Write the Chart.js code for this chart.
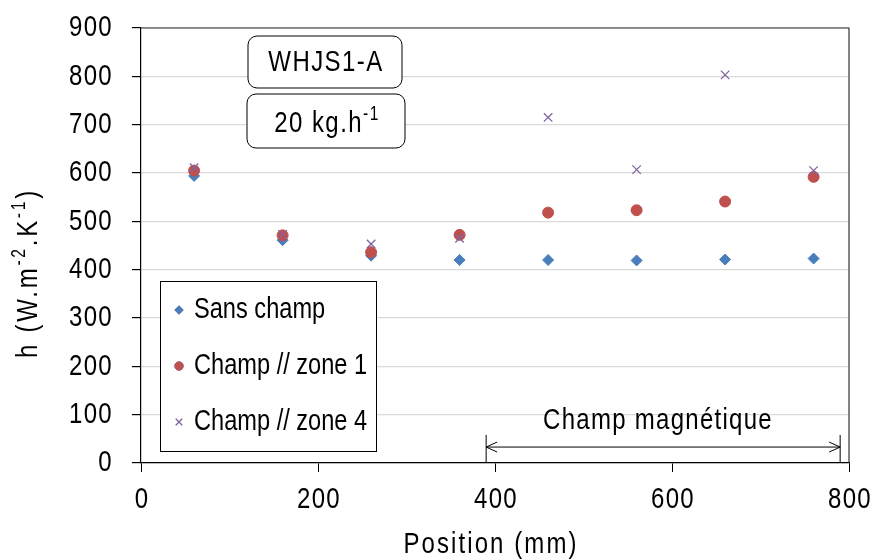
<!DOCTYPE html>
<html>
<head>
<meta charset="utf-8">
<script src="https://cdn.jsdelivr.net/npm/chart.js@4/dist/chart.umd.min.js"></script>
<style>
  html, body { margin: 0; padding: 0; background: #fff; }
  #wrap { width: 873px; height: 559px; }
</style>
</head>
<body>
<div id="wrap"><canvas id="hChart" width="873" height="559"></canvas></div>
<script>
/* ======================
   DATA
====================== */
const positions = [60, 160, 260, 360, 460, 560, 660, 760];
const sansChamp = [594, 461, 429, 420, 420, 419, 421, 423];
const champZone1 = [605, 471, 436, 472, 518, 523, 541, 592];
const champZone4 = [611, 473, 453, 465, 715, 607, 803, 605];
const seriesNames = ["Sans champ", "Champ // zone 1", "Champ // zone 4"];
const xTicks = [0, 200, 400, 600, 800];
const yTicks = [0, 100, 200, 300, 400, 500, 600, 700, 800, 900];
const fieldZone = [390, 790]; // champ magnétique, mm

// narrow look: Liberation Sans squeezed horizontally
const FONT = "'Liberation Sans', Arial, sans-serif";
const SIZE = 30;
const SX = 0.8;

function toPoints(values) {
    return positions.map((x, i) => ({ x: x, y: values[i] }));
}

/* ======================
   HELPERS
====================== */
function roundBox(ctx, x, y, w, h, r) {
    ctx.beginPath();
    ctx.moveTo(x + r, y);
    ctx.lineTo(x + w - r, y);
    ctx.arcTo(x + w, y, x + w, y + r, r);
    ctx.lineTo(x + w, y + h - r);
    ctx.arcTo(x + w, y + h, x + w - r, y + h, r);
    ctx.lineTo(x + r, y + h);
    ctx.arcTo(x, y + h, x, y + h - r, r);
    ctx.lineTo(x, y + r);
    ctx.arcTo(x, y, x + r, y, r);
    ctx.closePath();
    ctx.fillStyle = "#fff";
    ctx.fill();
    ctx.strokeStyle = "#000";
    ctx.lineWidth = 1;
    ctx.stroke();
}

// parts: [string, isSuperscript]; opts: size, spacing, align
function drawText(ctx, parts, x, y, opts) {
    const size = opts.size || SIZE;
    const sup = size * 0.65;
    ctx.save();
    ctx.letterSpacing = (opts.spacing || 0) + "px";
    let w = 0;
    parts.forEach(p => {
        ctx.font = (p[1] ? sup : size) + "px " + FONT;
        w += ctx.measureText(p[0]).width;
    });
    ctx.translate(x, y);
    ctx.scale(SX, 1);
    let cx = opts.align === "left" ? 0 : opts.align === "right" ? -w : -w / 2;
    ctx.textAlign = "left";
    ctx.textBaseline = "middle";
    ctx.fillStyle = "#000";
    parts.forEach(p => {
        ctx.font = (p[1] ? sup : size) + "px " + FONT;
        ctx.fillText(p[0], cx, p[1] ? -size * 0.3 : 0);
        cx += ctx.measureText(p[0]).width;
    });
    ctx.restore();
}

/* ======================
   EXTRAS PLUGIN
====================== */
const extras = {
    id: "extras",
    beforeDraw(chart) {
        const ctx = chart.ctx;
        ctx.save();
        ctx.fillStyle = "#fff";
        ctx.fillRect(0, 0, chart.width, chart.height);
        ctx.restore();
    },
    afterDatasetsDraw(chart) {
        const ctx = chart.ctx;
        const a = chart.chartArea;
        const xs = chart.scales.x, ys = chart.scales.y;
        ctx.save();

        // frame top + right
        ctx.strokeStyle = "#333";
        ctx.lineWidth = 1.2;
        ctx.beginPath();
        ctx.moveTo(a.left, a.top);
        ctx.lineTo(a.right, a.top);
        ctx.lineTo(a.right, a.bottom);
        ctx.stroke();

        // tick labels
        yTicks.forEach(v => {
            drawText(ctx, [[String(v), false]], 113, ys.getPixelForValue(v), { spacing: 1.6, align: "right" });
        });
        xTicks.forEach(v => {
            drawText(ctx, [[String(v), false]], xs.getPixelForValue(v) + 1, 500, { spacing: 1.6 });
        });

        // label boxes
        roundBox(ctx, 248, 36, 154, 52, 9);
        drawText(ctx, [["WHJS1-A", false]], 326, 63, { spacing: 1.8 });
        roundBox(ctx, 247, 94, 158, 54, 9);
        drawText(ctx, [["20 kg.h", false], ["-1", true]], 327, 124, { spacing: 1.8 });

        // legend
        ctx.fillStyle = "#fff";
        ctx.fillRect(160.5, 281.5, 216, 170);
        ctx.strokeStyle = "#000";
        ctx.lineWidth = 1;
        ctx.strokeRect(160.5, 281.5, 216, 170);
        const rowY = [310, 366, 422];
        chart.data.datasets.forEach((ds, i) => {
            Chart.helpers.drawPoint(ctx, {
                pointStyle: ds.pointStyle,
                radius: ds.pointRadius * 0.75,
                rotation: 0,
                borderWidth: ds.borderWidth
            }, 179, rowY[i]);
            ctx.fillStyle = ds.backgroundColor;
            ctx.strokeStyle = ds.borderColor;
            ctx.lineWidth = ds.borderWidth;
            ctx.fill();
            ctx.stroke();
            drawText(ctx, [[ds.label, false]], 194, rowY[i], { size: 29.5, align: "left" });
        });

        // champ magnetique arrow
        const x1 = xs.getPixelForValue(fieldZone[0]);
        const x2 = xs.getPixelForValue(fieldZone[1]);
        const yA = ys.getPixelForValue(33);
        const yTop = ys.getPixelForValue(58);
        ctx.strokeStyle = "#000";
        ctx.lineWidth = 1;
        ctx.beginPath();
        ctx.moveTo(x1, yTop); ctx.lineTo(x1, a.bottom);
        ctx.moveTo(x2, yTop); ctx.lineTo(x2, a.bottom);
        ctx.moveTo(x1, yA); ctx.lineTo(x2, yA);
        ctx.moveTo(x1 + 11, yA - 5); ctx.lineTo(x1, yA); ctx.lineTo(x1 + 11, yA + 5);
        ctx.moveTo(x2 - 11, yA - 5); ctx.lineTo(x2, yA); ctx.lineTo(x2 - 11, yA + 5);
        ctx.stroke();
        drawText(ctx, [["Champ magnétique", false]], 658, ys.getPixelForValue(88), { spacing: 1.6 });

        // axis titles
        drawText(ctx, [["Position (mm)", false]], 491, 545, { spacing: 2.6 });
        ctx.translate(29, 273);
        ctx.rotate(-Math.PI / 2);
        drawText(ctx, [["h (W.m", false], ["-2", true], [".K", false], ["-1", true], [")", false]], 0, 0, { spacing: 3.4 });
        ctx.restore();
    }
};

/* ======================
   CHART
====================== */
const chartCanvas = document.getElementById("hChart");

new Chart(chartCanvas, {
    type: "scatter",
    data: {
        datasets: [{
            label: seriesNames[0],
            data: toPoints(sansChamp),
            pointStyle: "rectRot",
            pointRadius: 5.5,
            backgroundColor: "#4a7ebb",
            borderColor: "#4a7ebb",
            borderWidth: 1,
            order: 3
        }, {
            label: seriesNames[1],
            data: toPoints(champZone1),
            pointStyle: "circle",
            pointRadius: 5.5,
            backgroundColor: "#c0504d",
            borderColor: "#c0504d",
            borderWidth: 1,
            order: 2
        }, {
            label: seriesNames[2],
            data: toPoints(champZone4),
            pointStyle: "crossRot",
            pointRadius: 6,
            backgroundColor: "#8064a2",
            borderColor: "#8064a2",
            borderWidth: 1.3,
            order: 1
        }]
    },
    options: {
        responsive: false,
        animation: false,
        devicePixelRatio: 1,
        layout: { padding: { left: 0, right: 24, top: 28, bottom: 0 } },
        plugins: {
            legend: { display: false },
            tooltip: { enabled: false }
        },
        scales: {
            x: {
                type: "linear",
                min: 0,
                max: 800,
                afterBuildTicks: s => { s.ticks = xTicks.map(v => ({ value: v })); },
                afterFit: s => {
                    s.height = 96;
                    s.paddingLeft = 0;
                    s.paddingRight = 0;
                },
                ticks: { display: false },
                grid: {
                    drawOnChartArea: false,
                    drawTicks: true,
                    tickLength: 9,
                    tickColor: "#000"
                },
                border: { display: true, color: "#000", width: 1.2 }
            },
            y: {
                min: 0,
                max: 900,
                afterBuildTicks: s => { s.ticks = yTicks.map(v => ({ value: v })); },
                afterFit: s => {
                    s.width = 141;
                    s.paddingTop = 0;
                    s.paddingBottom = 0;
                },
                ticks: { display: false },
                grid: {
                    color: "#d9d9d9",
                    lineWidth: 1.2,
                    tickLength: 9,
                    tickColor: "#000"
                },
                border: { display: true, color: "#000", width: 1.2 }
            }
        }
    },
    plugins: [extras]
});
</script>
</body>
</html>
